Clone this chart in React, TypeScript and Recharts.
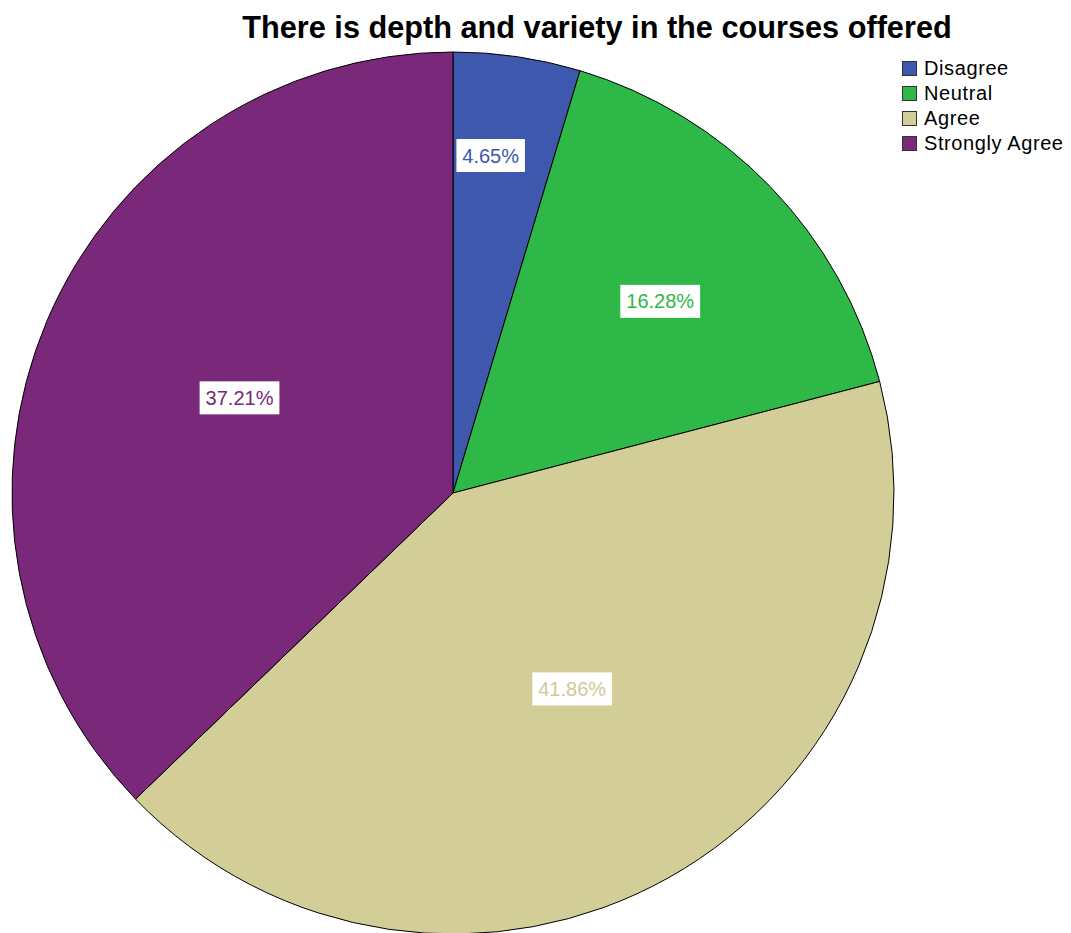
import { PieChart, Pie, Cell, Legend } from "recharts"

const categories = ["Disagree", "Neutral", "Agree", "Strongly Agree"]
const percents = [4.65, 16.28, 41.86, 37.21]

const COLOURS = ["#3D58AC", "#2EB848", "#D3CE98", "#79287A"]
const LABEL_TEXT = ["#3D58AC", "#2EB848", "#CFCA94", "#79287A"]
// SPSS puts small slice labels further out, and not quite on the mid angle
const LABEL_RADIUS = [0.77, 0.64, 0.52, 0.53]
const LABEL_ANGLE_NUDGE = [2, -1.2, 2, -1]

const FONT = "Arial, 'Liberation Sans', sans-serif"

const data = categories.map((name, i) => ({ name, value: percents[i] }))

const RADIAN = Math.PI / 180

function renderLabel(props: any) {
    const { cx, cy, midAngle, outerRadius, index, value } = props
    const r = outerRadius * LABEL_RADIUS[index]
    const a = (midAngle + LABEL_ANGLE_NUDGE[index]) * RADIAN
    const x = cx + r * Math.cos(-a)
    const y = cy + r * Math.sin(-a)
    const text = `${value.toFixed(2)}%`
    const w = text.length * 11.3 + 12
    const h = 33
    return (
        <g>
            <rect x={x - w / 2} y={y - h / 2} width={w} height={h} fill="#ffffff" />
            <text
                x={x}
                y={y}
                fill={LABEL_TEXT[index]}
                textAnchor="middle"
                dominantBaseline="central"
                fontSize={20}
                fontFamily={FONT}
            >
                {text}
            </text>
        </g>
    )
}

function LegendBox() {
    return (
        <div style={{ fontFamily: FONT, fontSize: 20, letterSpacing: 0.6, color: "#000" }}>
            {categories.map((c, i) => (
                <div key={c} style={{ display: "flex", alignItems: "center", height: 25 }}>
                    <span
                        style={{
                            width: 13,
                            height: 13,
                            background: COLOURS[i],
                            border: "1.5px solid #333",
                            marginRight: 7,
                            display: "inline-block",
                        }}
                    />
                    <span>{c}</span>
                </div>
            ))}
        </div>
    )
}

export default function App() {
    return (
        <div style={{ position: "absolute", top: 0, left: 0, width: 1071, height: 933, background: "#fff" }}>
            <PieChart width={1071} height={933} margin={{ top: 0, right: 0, bottom: 0, left: 0 }}>
                <text
                    x={597}
                    y={27}
                    textAnchor="middle"
                    dominantBaseline="central"
                    fontSize={30.7}
                    fontWeight="bold"
                    fontFamily={FONT}
                    fill="#000"
                >
                    There is depth and variety in the courses offered
                </text>
                <Pie
                    data={data}
                    dataKey="value"
                    nameKey="name"
                    cx={453}
                    cy={493}
                    outerRadius={441}
                    startAngle={90}
                    endAngle={-270}
                    stroke="#000"
                    strokeWidth={1}
                    label={renderLabel}
                    labelLine={false}
                    isAnimationActive={false}
                >
                    {data.map((d, i) => (
                        <Cell key={d.name} fill={COLOURS[i]} />
                    ))}
                </Pie>
                <Legend
                    content={() => <LegendBox />}
                    wrapperStyle={{ position: "absolute", top: 56, left: 902, width: 170 }}
                />
            </PieChart>
        </div>
    )
}
